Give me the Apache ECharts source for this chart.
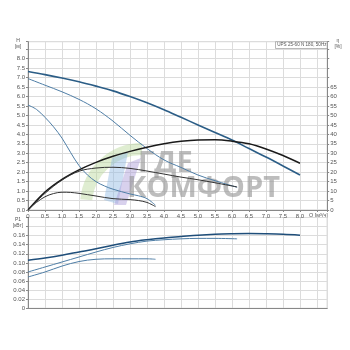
<!DOCTYPE html>
<html><head><meta charset="utf-8">
<script src="https://cdn.jsdelivr.net/npm/echarts@6/dist/echarts.min.js"></script>
<style>html,body{margin:0;padding:0;background:#fff}#c{width:350px;height:350px}</style>
</head><body><div id="c"></div>
<script>
// Speed 3
const q3 = [0,0.5,1,1.5,2,2.5,3,3.5,4,4.5,5,5.5,6,6.5,7,7.5,8];
const h3 = [7.32,7.16,6.98,6.78,6.55,6.3,6.0,5.67,5.3,4.9,4.5,4.1,3.7,3.25,2.8,2.33,1.85];
const eta3 = [0,9.5,16.2,21.2,25.2,28.4,31,33.2,35,36.3,37,37.1,36.4,35,32.3,28.8,24.7];
const p3 = [0.106,0.111,0.117,0.124,0.131,0.139,0.146,0.151,0.155,0.158,0.161,0.163,0.164,0.1645,0.164,0.163,0.161];
// Speed 2
const q2 = [0,0.5,1,1.5,2,2.5,3,3.5,4,4.5,5,5.5,6.15];
const h2 = [6.95,6.6,6.25,5.85,5.35,4.7,3.95,3.25,2.65,2.25,1.85,1.55,1.2];
const eta2 = [0,8.8,15.8,20.5,22.2,22.6,22.0,20.6,19,17.4,16.0,14.4,12.2];
const p2 = [0.080,0.091,0.102,0.113,0.124,0.134,0.142,0.148,0.151,0.153,0.154,0.154,0.153];
// Speed 1
const q1h = [0,0.25,0.5,0.75,1,1.25,1.5,1.75,2,2.25,2.5,3,3.25,3.5,3.75];
const h1 = [5.55,5.32,4.9,4.4,3.8,3.05,2.35,1.85,1.5,1.27,1.1,0.85,0.75,0.6,0.25];
const q1e = [0,0.25,0.5,0.75,1,1.25,1.5,2,2.5,3,3.25,3.5,3.75];
const eta1 = [0,4,7,8.7,9.4,9.3,8.8,7.4,6.0,5.5,5.0,4.0,1.8];
const q1p = [0,0.5,1,1.5,2,2.5,3,3.5,3.75];
const p1 = [0.069,0.080,0.093,0.103,0.108,0.109,0.109,0.109,0.108];

const legendText = 'UPS 25-60 N 180, 50Hz';

const zip = (a,b)=>a.map((v,i)=>[v,b[i]]);
const chart = echarts.init(document.getElementById('c'), null, {renderer:'canvas'});
const lbl = {fontSize:6, color:'#555', fontFamily:'Liberation Sans'};
const split = {show:true, lineStyle:{color:'#dcdcdc', width:1}};
const axLine = {show:true, lineStyle:{color:'#888', width:1}};
const tick = {show:true, length:2, lineStyle:{color:'#888'}};
function line(x,y,xi,yi,color,w){
  return {type:'line', xAxisIndex:xi, yAxisIndex:yi, data:zip(x,y), smooth:0.35, symbol:'none',
    lineStyle:{color:color, width:w}, itemStyle:{color:color}, z:3, silent:true};
}
const option = {
  animation:false,
  grid:[
    {left:28, right:22.8, top:41.7, height:168.3, show:true, borderColor:'#ccc', borderWidth:1},
    {left:28, right:22.8, top:217.5, height:90.8, show:true, borderColor:'#ccc', borderWidth:1}
  ],
  xAxis:[
    {type:'value', gridIndex:0, min:0, max:8.8, interval:0.5, axisLine:axLine, axisTick:tick, splitLine:split,
     axisLabel:Object.assign({margin:3, formatter:v=> v===0?'0':(v>8.01?'':v.toFixed(1))}, lbl)},
    {type:'value', gridIndex:1, min:0, max:8.8, interval:0.5, axisLine:axLine, axisTick:{show:false}, splitLine:split,
     axisLabel:{show:false}}
  ],
  yAxis:[
    {type:'value', gridIndex:0, min:0, max:8.9, interval:0.5, axisLine:axLine, axisTick:tick, splitLine:split,
     axisLabel:Object.assign({margin:3, formatter:v=> v>8.01?'':v.toFixed(1)}, lbl)},
    {type:'value', gridIndex:0, position:'right', min:0, max:89, interval:5, axisLine:axLine, axisTick:tick, splitLine:{show:false},
     axisLabel:Object.assign({margin:3, formatter:v=> v>65.1?'':String(v)}, lbl)},
    {type:'value', gridIndex:1, min:0, max:0.2, interval:0.02, axisLine:axLine, axisTick:tick, splitLine:split,
     axisLabel:Object.assign({margin:3, formatter:v=> v>0.161?'':(v===0?'0':v.toFixed(2))}, lbl)}
  ],
  graphic:[
    {type:'arc', shape:{cx:142, cy:205, r:56, startAngle:Math.PI*1.03, endAngle:Math.PI*1.5}, style:{stroke:'#b9d79a', lineWidth:12, fill:null, opacity:0.45}, z:1, silent:true},
    {type:'polygon', shape:{points:[[112,158],[128,152],[118,204],[104,200]]}, style:{fill:'#8fb9e3', opacity:0.45}, z:1, silent:true},
    {type:'polygon', shape:{points:[[128,163],[141,158],[126,205],[114,205]]}, style:{fill:'#a99ad6', opacity:0.45}, z:1, silent:true},
    {type:'text', left:138, top:149, style:{text:'ГДЕ', font:'bold 29px "Open Sans"', fill:'#9a9a9a', opacity:0.65}, z:2, silent:true},
    {type:'text', left:127, top:174, style:{text:'КОМФОРТ', font:'bold 29px "Open Sans"', fill:'#9a9a9a', opacity:0.65}, z:2, silent:true},
    {type:'rect', shape:{x:275.5, y:41.7, width:51.7, height:6.8}, style:{fill:'#fff', stroke:'#999', lineWidth:0.7}, z:5},
    {type:'text', x:326.5, y:45.2, style:{text:legendText, font:'4.6px "Liberation Sans"', fill:'#555', align:'right', verticalAlign:'middle'}, z:6},
    {type:'text', x:18, y:41, style:{text:'H', font:'5px "Liberation Sans"', fill:'#555', align:'center', verticalAlign:'middle'}},
    {type:'text', x:18, y:47, style:{text:'[м]', font:'5px "Liberation Sans"', fill:'#555', align:'center', verticalAlign:'middle'}},
    {type:'text', x:338, y:41, style:{text:'η', font:'5px "Liberation Sans"', fill:'#555', align:'center', verticalAlign:'middle'}},
    {type:'text', x:338, y:47, style:{text:'[%]', font:'5px "Liberation Sans"', fill:'#555', align:'center', verticalAlign:'middle'}},
    {type:'text', x:18, y:219.5, style:{text:'P1', font:'5px "Liberation Sans"', fill:'#555', align:'center', verticalAlign:'middle'}},
    {type:'text', x:18, y:225.5, style:{text:'[кВт]', font:'5px "Liberation Sans"', fill:'#555', align:'center', verticalAlign:'middle'}},
    {type:'text', x:309, y:215.5, style:{text:'Q [м³/ч]', font:'5.5px "Liberation Sans"', fill:'#555', align:'left', verticalAlign:'middle'}}
  ],
  series:[
    line(q3,h3,0,0,'#2b5d86',1.6),
    line(q2,h2,0,0,'#4f7ea6',1),
    line(q1h,h1,0,0,'#4f7ea6',1),
    line(q3,eta3,0,1,'#1a1a1a',1.5),
    line(q2,eta2,0,1,'#333',1),
    line(q1e,eta1,0,1,'#333',1),
    line(q3,p3,1,2,'#1f4e7a',1.5),
    line(q2,p2,1,2,'#4f7ea6',1),
    line(q1p,p1,1,2,'#4f7ea6',1)
  ]
};
chart.setOption(option);
</script></body></html>
